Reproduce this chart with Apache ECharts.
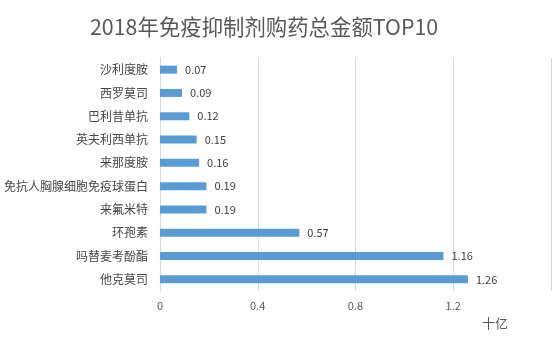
<!DOCTYPE html>
<html><head><meta charset="utf-8">
<script src="https://cdn.jsdelivr.net/npm/echarts@6/dist/echarts.min.js"></script>
<style>html,body{margin:0;padding:0;background:#fff}#c{width:554px;height:349px}</style>
</head><body><div id="c"></div>
<script>
var categories = ['沙利度胺','西罗莫司','巴利昔单抗','英夫利西单抗','来那度胺','免抗人胸腺细胞免疫球蛋白','来氟米特','环孢素','吗替麦考酚酯','他克莫司'];
var values = [0.07,0.09,0.12,0.15,0.16,0.19,0.19,0.57,1.16,1.26];
var tickLabels = ['0','0.4','0.8','1.2'];
var titleText = '2018年免疫抑制剂购药总金额TOP10';
var unitText = '十亿';

var font = '"Noto Sans CJK SC","Noto Sans",sans-serif';
var chart = echarts.init(document.getElementById('c'), null, {renderer:'canvas'});
chart.setOption({
  animation:false,
  title:{text:titleText,left:85,top:11,textStyle:{fontFamily:font,fontSize:21.4,fontWeight:'normal',color:'#595959'}},
  grid:{left:160,right:-6,top:58,bottom:58,containLabel:false},
  xAxis:{type:'value',min:0,max:1.6,interval:0.4,
    axisLine:{show:false},axisTick:{show:false},
    splitLine:{lineStyle:{color:'#d9d9d9',width:1}},
    axisLabel:{color:'#595959',fontFamily:font,fontSize:11,margin:9,
      formatter:function(v){var i=Math.round(v/0.4);return tickLabels[i]!==undefined?tickLabels[i]:'';}}},
  yAxis:{type:'category',inverse:true,data:categories,
    axisLine:{show:true,lineStyle:{color:'#d9d9d9'}},axisTick:{show:false},
    axisLabel:{color:'#474747',fontFamily:font,fontSize:12,margin:12}},
  series:[{type:'bar',data:values,barWidth:8,itemStyle:{color:'#5b9bd5'},
    label:{show:true,position:'right',distance:8,color:'#404040',fontFamily:font,fontSize:11,
      formatter:function(p){return p.value.toFixed(2);}}}],
  graphic:[{type:'text',left:482,top:317,style:{text:unitText,fill:'#595959',font:'13px '+font}}]
});
</script></body></html>
